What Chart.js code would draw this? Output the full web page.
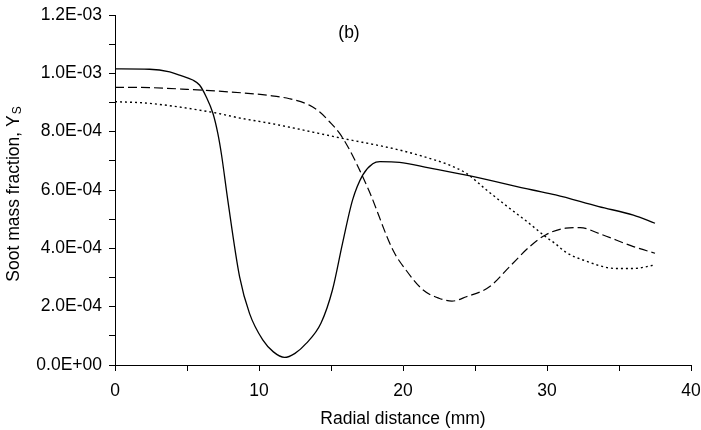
<!DOCTYPE html>
<html>
<head>
<meta charset="utf-8">
<script src="https://cdn.jsdelivr.net/npm/chart.js@4/dist/chart.umd.min.js"></script>
<style>
  html, body { margin: 0; padding: 0; background: #fff; }
  #wrap { width: 701px; height: 430px; position: relative; }
</style>
</head>
<body>
<div id="wrap"><canvas id="c" width="701" height="430"></canvas></div>
<script>
// ---- data (radial distance in mm, soot mass fraction) ----
const solidR = [0, 2.4, 3.8, 4.48, 5.4, 5.87, 6.33, 6.8, 7.14, 7.4, 7.83, 8.65, 9.34, 10.26, 11, 11.77, 12.5, 13.28, 14.3, 15.1, 15.8, 16.5, 17.2, 17.9, 18.4, 19.76, 21.8, 24.4, 29.0, 30.6, 33.6, 36, 37.5];
const solidY = [10.15, 10.14, 10.05, 9.94, 9.77, 9.6, 9.2, 8.63, 7.94, 7.2, 5.66, 3.03, 1.77, 0.86, 0.45, 0.26, 0.4, 0.74, 1.43, 2.57, 4.17, 5.66, 6.51, 6.9, 6.97, 6.95, 6.76, 6.51, 6.0, 5.83, 5.43, 5.14, 4.86];

const dashedR = [0, 2.4, 5, 8.85, 10.73, 12.12, 13.5, 14.2, 14.9, 15.6, 16.3, 16.98, 17.67, 19.3, 20.2, 21.4, 22.5, 23.4, 24.4, 26.0, 27.4, 28.8, 29.9, 31.3, 32.3, 33.6, 36, 37.5];
const dashedY = [9.52, 9.51, 9.45, 9.33, 9.24, 9.13, 8.91, 8.68, 8.34, 7.94, 7.37, 6.69, 5.94, 3.94, 3.26, 2.57, 2.29, 2.19, 2.34, 2.68, 3.37, 4.06, 4.46, 4.69, 4.71, 4.51, 4.06, 3.83];

const dottedR = [0, 2.4, 6.8, 8.85, 10.73, 15.8, 19.76, 22.07, 23.2, 24.4, 25.8, 27.2, 28.6, 29.9, 30.6, 31.3, 32.5, 34.8, 36, 37.5];
const dottedY = [9.03, 8.97, 8.66, 8.45, 8.29, 7.77, 7.37, 7.05, 6.86, 6.57, 6.0, 5.45, 4.92, 4.40, 4.15, 3.87, 3.6, 3.31, 3.31, 3.43];

const yUnit = 1e-4; // values above are in units of 1E-04

const xTickLabels = ['0', '10', '20', '30', '40'];
const yTickLabels = ['0.0E+00', '2.0E-04', '4.0E-04', '6.0E-04', '8.0E-04', '1.0E-03', '1.2E-03'];

const panelLabel = '(b)';
const xTitle = 'Radial distance (mm)';
const yTitleMain = 'Soot mass fraction, Y';
const yTitleSub = 'S';

function pts(rs, ys) { return rs.map((r, i) => ({ x: r, y: ys[i] * yUnit })); }

const FONT = '"Liberation Sans", Arial, sans-serif';
const FS = 17.5;

const annot = {
  id: 'annot',
  afterDraw(chart) {
    const ctx = chart.ctx;
    ctx.save();
    ctx.fillStyle = '#000';
    // panel label
    ctx.font = FS + 'px ' + FONT;
    ctx.textAlign = 'center';
    ctx.textBaseline = 'middle';
    ctx.fillText(panelLabel, 349, 33);
    // y title with subscript
    const subFS = 12;
    ctx.font = FS + 'px ' + FONT;
    const w1 = ctx.measureText(yTitleMain).width;
    ctx.font = subFS + 'px ' + FONT;
    const w2 = ctx.measureText(yTitleSub).width;
    const total = w1 + 1 + w2;
    ctx.translate(14, 194);
    ctx.rotate(-Math.PI / 2);
    ctx.textAlign = 'left';
    ctx.textBaseline = 'middle';
    ctx.font = FS + 'px ' + FONT;
    ctx.fillText(yTitleMain, -total / 2, 0);
    ctx.font = subFS + 'px ' + FONT;
    ctx.fillText(yTitleSub, -total / 2 + w1 + 1, 4);
    ctx.restore();
  }
};

new Chart(document.getElementById('c'), {
  type: 'line',
  data: {
    datasets: [
      { data: pts(solidR, solidY), borderColor: '#000', borderWidth: 1.3, pointRadius: 0, fill: false, cubicInterpolationMode: 'monotone' },
      { data: pts(dashedR, dashedY), borderColor: '#000', borderWidth: 1.2, borderDash: [9, 4], pointRadius: 0, fill: false, cubicInterpolationMode: 'monotone' },
      { data: pts(dottedR, dottedY), borderColor: '#000', borderWidth: 1.4, borderDash: [2, 3], pointRadius: 0, fill: false, cubicInterpolationMode: 'monotone' }
    ]
  },
  options: {
    responsive: false,
    animation: false,
    events: [],
    layout: { padding: { left: 0, right: 10, top: 15, bottom: 0 } },
    plugins: { legend: { display: false }, tooltip: { enabled: false } },
    scales: {
      x: {
        type: 'linear', min: 0, max: 40,
        afterFit(s) { s.height = 65; s.paddingLeft = 0; s.paddingRight = 0; },
        ticks: {
          stepSize: 5, maxRotation: 0, autoSkip: false, padding: 10,
          color: '#000', font: { family: FONT, size: FS },
          callback(v) { const k = Math.round(v); return (k % 10 === 0) ? xTickLabels[k / 10] : ''; }
        },
        grid: { drawOnChartArea: false, drawTicks: true, tickLength: 6, color: '#000', lineWidth: 1 },
        border: { display: true, color: '#000', width: 1 },
        title: { display: true, text: xTitle, color: '#000', font: { family: FONT, size: FS }, padding: { top: 0, bottom: 0 } }
      },
      y: {
        type: 'linear', min: 0, max: 1.2e-3,
        afterFit(s) { s.width = 115; s.paddingTop = 0; s.paddingBottom = 0; },
        ticks: {
          stepSize: 1e-4, autoSkip: false, padding: 7,
          color: '#000', font: { family: FONT, size: FS },
          callback(v) { const k = Math.round(v / 1e-4); return (k % 2 === 0) ? yTickLabels[k / 2] : ''; }
        },
        grid: { drawOnChartArea: false, drawTicks: true, tickLength: 6, color: '#000', lineWidth: 1 },
        border: { display: true, color: '#000', width: 1 }
      }
    }
  },
  plugins: [annot]
});
</script>
</body>
</html>
